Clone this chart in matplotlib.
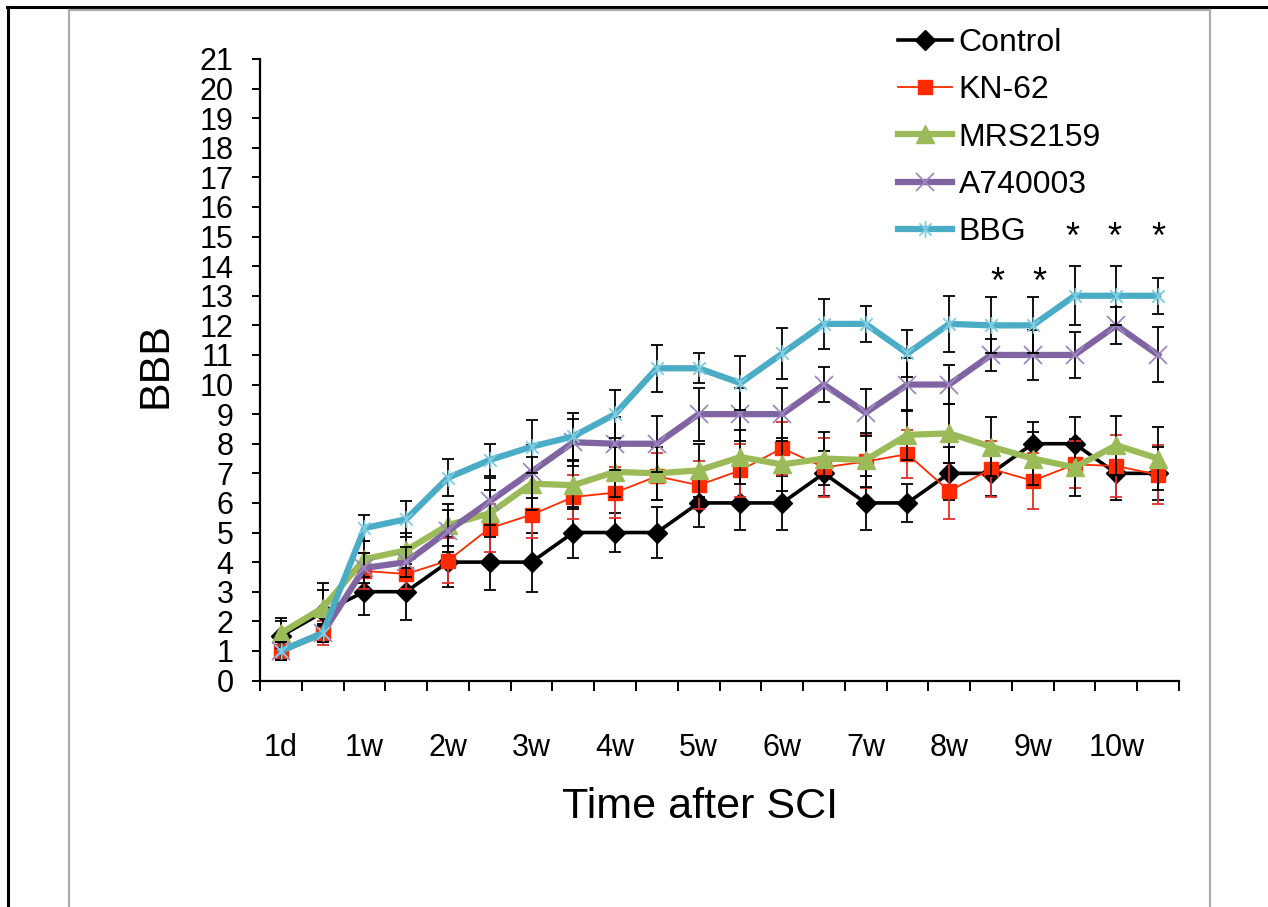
import numpy as np
import matplotlib
matplotlib.use("Agg")
import matplotlib.pyplot as plt
from matplotlib.path import Path
from matplotlib.lines import Line2D

plt.rcParams['font.family'] = ['Liberation Sans', 'DejaVu Sans']

# ---------------- data ----------------
tick_labels = ["1d", "1w", "2w", "3w", "4w", "5w", "6w", "7w", "8w", "9w", "10w"]
n_points = 22

series_names = ["Control", "KN-62", "MRS2159", "A740003", "BBG"]

control = [1.5, 2.3, 3.0, 3.0, 4.0, 4.0, 4.0, 5.0, 5.0, 5.0, 6.0, 6.0, 6.0, 7.0, 6.0, 6.0, 7.0, 7.0, 8.0, 8.0, 7.0, 7.0]
control_err = [0.5, 1.0, 0.8, 0.95, 0.85, 0.95, 1.0, 0.85, 0.65, 0.85, 0.8, 0.9, 0.9, 0.75, 0.9, 0.65, 0.9, 0.75, 0.75, 0.9, 0.9, 0.9]

kn62 = [1.0, 1.6, 3.7, 3.6, 4.05, 5.15, 5.6, 6.2, 6.35, 6.9, 6.6, 7.1, 7.85, 7.2, 7.4, 7.65, 6.4, 7.15, 6.75, 7.3, 7.25, 6.95]
kn62_err = [0.3, 0.4, 0.6, 0.5, 0.75, 0.8, 0.8, 0.75, 0.85, 0.8, 0.8, 0.9, 0.9, 1.0, 0.9, 0.8, 0.95, 0.95, 0.95, 0.8, 1.05, 1.0]

mrs2159 = [1.6, 2.45, 4.1, 4.4, 5.25, 5.65, 6.65, 6.6, 7.05, 7.0, 7.1, 7.55, 7.3, 7.5, 7.45, 8.3, 8.35, 7.9, 7.5, 7.2, 7.95, 7.5]
mrs2159_err = [0.5, 0.6, 0.6, 0.6, 0.7, 0.8, 0.9, 0.8, 0.85, 0.9, 0.9, 0.9, 0.9, 0.9, 0.9, 0.85, 1.0, 1.0, 0.9, 0.95, 1.0, 1.05]

a740003 = [1.0, 1.6, 3.8, 4.0, 5.05, 6.05, 7.05, 8.05, 8.0, 8.0, 9.0, 9.0, 9.0, 10.0, 9.05, 10.0, 10.0, 11.0, 11.0, 11.0, 12.0, 11.0]
a740003_err = [0.3, 0.3, 0.5, 0.5, 0.7, 0.8, 0.9, 0.8, 0.9, 0.95, 0.9, 0.9, 0.9, 0.6, 0.8, 0.9, 0.65, 0.55, 0.85, 0.78, 0.62, 0.93]

bbg = [1.0, 1.6, 5.15, 5.45, 6.85, 7.45, 7.9, 8.25, 9.0, 10.55, 10.55, 10.05, 11.05, 12.05, 12.05, 11.05, 12.05, 12.0, 12.0, 13.0, 13.0, 13.0]
bbg_err = [0.3, 0.3, 0.45, 0.6, 0.62, 0.55, 0.9, 0.8, 0.8, 0.8, 0.5, 0.9, 0.85, 0.85, 0.62, 0.8, 0.95, 0.95, 0.95, 1.0, 1.0, 0.6]

# significance marks (category position, height)
star_x = [17.15, 18.15, 18.95, 19.95, 21.0]
star_y = [13.4, 13.4, 14.95, 14.95, 14.95]

# ---------------- figure ----------------
W, H = 1268, 907
fig = plt.figure(figsize=(W / 100, H / 100), dpi=100)

def fx(px):
    return px / W

def fy(py):
    return 1 - py / H

# frame decorations
fig.add_artist(Line2D([fx(7), fx(1268)], [fy(7), fy(7)], color='black', lw=2.2))
fig.add_artist(Line2D([fx(8), fx(8)], [fy(7), fy(907)], color='black', lw=2.2))
fig.add_artist(Line2D([fx(69), fx(1210)], [fy(10), fy(10)], color='#AAAAAA', lw=1.6))
fig.add_artist(Line2D([fx(69), fx(69)], [fy(10), fy(907)], color='#AAAAAA', lw=1.6))
fig.add_artist(Line2D([fx(1210), fx(1210)], [fy(10), fy(907)], color='#AAAAAA', lw=1.6))

ax_left, ax_right, ax_top, ax_bottom = 260, 1179, 59, 680.5
ax = fig.add_axes([fx(ax_left), fy(ax_bottom), (ax_right - ax_left) / W, (ax_bottom - ax_top) / H])

x = np.arange(n_points)

star_path = Path(
    [(-1, -1), (1, 1), (-1, 1), (1, -1), (0, -1.35), (0, 1.35)],
    [Path.MOVETO, Path.LINETO, Path.MOVETO, Path.LINETO, Path.MOVETO, Path.LINETO],
)

styles = [
    dict(color='black', lw=2.6, marker='D', ms=10, mfc='black', mec='black', ecolor='black'),
    dict(color='#FF2A00', lw=1.3, marker='s', ms=10.5, mfc='#FF2A00', mec='#FF2A00', ecolor='#E0302A'),
    dict(color='#9BBB59', lw=4.5, marker='^', ms=12.5, mfc='#9BBB59', mec='#9BBB59', ecolor='black'),
    dict(color='#8064A2', lw=4.5, marker='x', ms=12.5, mfc='none', mec='#9D88BF', mew=1.3, ecolor='black'),
    dict(color='#4BACC6', lw=4.5, marker=star_path, ms=12, mfc='none', mec='#7FCBE0', mew=1.3, ecolor='black'),
]

values = [control, kn62, mrs2159, a740003, bbg]
errors = [control_err, kn62_err, mrs2159_err, a740003_err, bbg_err]

handles = []
for k, (vals, errs, st) in enumerate(zip(values, errors, styles)):
    st = dict(st)
    ecolor = st.pop('ecolor')
    c = ax.errorbar(x, vals, yerr=errs, ecolor=ecolor, elinewidth=1.3, capsize=4.5,
                    capthick=1.3, zorder=3 + k, **st)
    handles.append(c[0])

for xi, yi in zip(star_x, star_y):
    ax.text(xi, yi, "*", ha='center', va='center', fontsize=26, color='black')

# axes styling
ax.set_xlim(-0.5, n_points - 0.5)
ax.set_ylim(0, 21)
for side in ['top', 'right']:
    ax.spines[side].set_visible(False)
for side in ['left', 'bottom']:
    ax.spines[side].set_linewidth(1.6)

ax.set_yticks(np.arange(0, 22, 1))
ax.set_yticklabels([str(v) for v in range(0, 22)])
ax.tick_params(axis='y', direction='out', length=6, width=1.4, pad=13, labelsize=22)

ax.set_xticks(np.arange(-0.5, n_points, 1))
ax.set_xticklabels([])
ax.set_xticks(np.arange(0, n_points, 2)[:len(tick_labels)], minor=True)
ax.set_xticklabels(tick_labels, minor=True)
ax.tick_params(axis='x', which='major', direction='out', length=7, width=1.4)
ax.tick_params(axis='x', which='minor', length=0, pad=38, labelsize=22)

ax.set_ylabel("BBB", fontsize=31)
ax.yaxis.set_label_coords((155 - ax_left) / (ax_right - ax_left), (ax_bottom - 365) / (ax_bottom - ax_top))
ax.set_xlabel("Time after SCI", fontsize=31)
ax.xaxis.set_label_coords((700 - ax_left) / (ax_right - ax_left), (ax_bottom - 807) / (ax_bottom - ax_top))
ax.xaxis.label.set_va('center')
ax.yaxis.label.set_va('center')

leg = ax.legend(handles, series_names, loc='upper left', frameon=False,
                bbox_to_anchor=(fx(898), fy(28)), bbox_transform=fig.transFigure,
                fontsize=23, handlelength=1.7, handletextpad=0.2, labelspacing=0.54,
                borderpad=0, borderaxespad=0)

fig.savefig("out.png", dpi=100, facecolor='white')
